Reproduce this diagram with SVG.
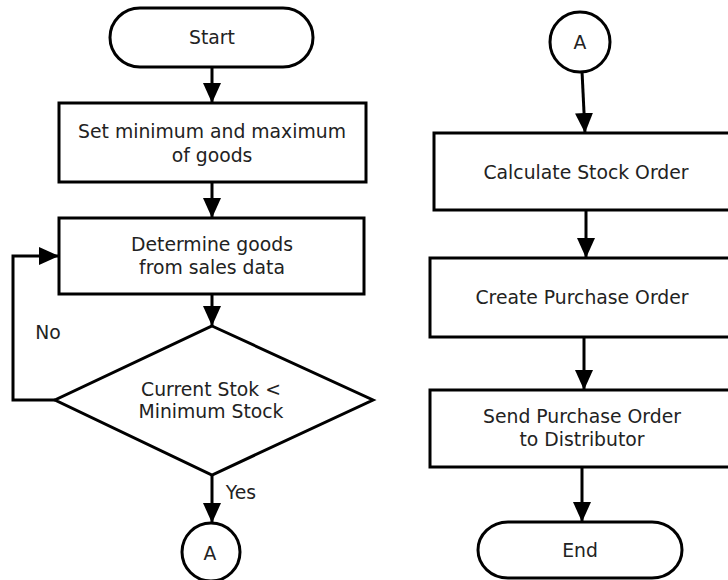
<svg xmlns="http://www.w3.org/2000/svg" width="728" height="580" viewBox="0 0 728 580">
<style>
.s{fill:#fff;stroke:#000;stroke-width:3}
.t{font-family:"DejaVu Sans",sans-serif;font-size:18.8px;fill:#222;text-anchor:middle;dominant-baseline:central}
.c{fill:none;stroke:#000;stroke-width:3}
</style>
<defs>
<marker id="ah" markerUnits="userSpaceOnUse" markerWidth="20" markerHeight="20" viewBox="0 0 20 20" refX="20" refY="10" orient="auto">
<path d="M0,1 L20,10 L0,19 Z" fill="#000"/>
</marker>
</defs>
<rect width="728" height="580" fill="#fff"/>
<g id="connectors">
<line class="c" x1="212" y1="67" x2="212" y2="103" marker-end="url(#ah)"/>
<line class="c" x1="212" y1="182" x2="212" y2="218" marker-end="url(#ah)"/>
<line class="c" x1="212" y1="294" x2="212" y2="326" marker-end="url(#ah)"/>
<polyline class="c" points="55,400 13,400 13,256 59,256" marker-end="url(#ah)"/>
<line class="c" x1="212" y1="475" x2="212" y2="523" marker-end="url(#ah)"/>
<line class="c" x1="582" y1="71" x2="585" y2="133" marker-end="url(#ah)"/>
<line class="c" x1="586" y1="210" x2="586" y2="258" marker-end="url(#ah)"/>
<line class="c" x1="584" y1="337" x2="584" y2="390" marker-end="url(#ah)"/>
<line class="c" x1="582" y1="467" x2="582" y2="522" marker-end="url(#ah)"/>
<text class="t" x="48" y="332">No</text>
<text class="t" x="241" y="492">Yes</text>
</g>
<g id="start">
<rect class="s" x="110" y="8" width="203" height="59" rx="30" ry="29.5"/>
<text class="t" x="212" y="37">Start</text>
</g>
<g id="setminmax">
<rect class="s" x="59" y="103" width="307" height="79"/>
<text class="t" x="212" y="131">Set minimum and maximum</text>
<text class="t" x="212" y="155">of goods</text>
</g>
<g id="determine">
<rect class="s" x="59" y="218" width="305" height="76"/>
<text class="t" x="212" y="244">Determine goods</text>
<text class="t" x="212" y="267">from sales data</text>
</g>
<g id="decision">
<polygon class="s" points="212,326 373,400 212,475 55,400"/>
<text class="t" x="211" y="389">Current Stok &lt;</text>
<text class="t" x="211" y="411">Minimum Stock</text>
</g>
<g id="connA1">
<circle class="s" cx="211" cy="552" r="29"/>
<text class="t" x="210" y="553">A</text>
</g>
<g id="connA2">
<circle class="s" cx="580" cy="42" r="30"/>
<text class="t" x="580" y="42">A</text>
</g>
<g id="calc">
<rect class="s" x="434" y="133" width="310" height="77"/>
<text class="t" x="586" y="172">Calculate Stock Order</text>
</g>
<g id="create">
<rect class="s" x="430" y="258" width="310" height="79"/>
<text class="t" x="582" y="297">Create Purchase Order</text>
</g>
<g id="send">
<rect class="s" x="430" y="390" width="310" height="77"/>
<text class="t" x="582" y="416">Send Purchase Order</text>
<text class="t" x="582" y="439">to Distributor</text>
</g>
<g id="end">
<rect class="s" x="478" y="522" width="204" height="56" rx="30" ry="28"/>
<text class="t" x="580" y="550">End</text>
</g>
</svg>
